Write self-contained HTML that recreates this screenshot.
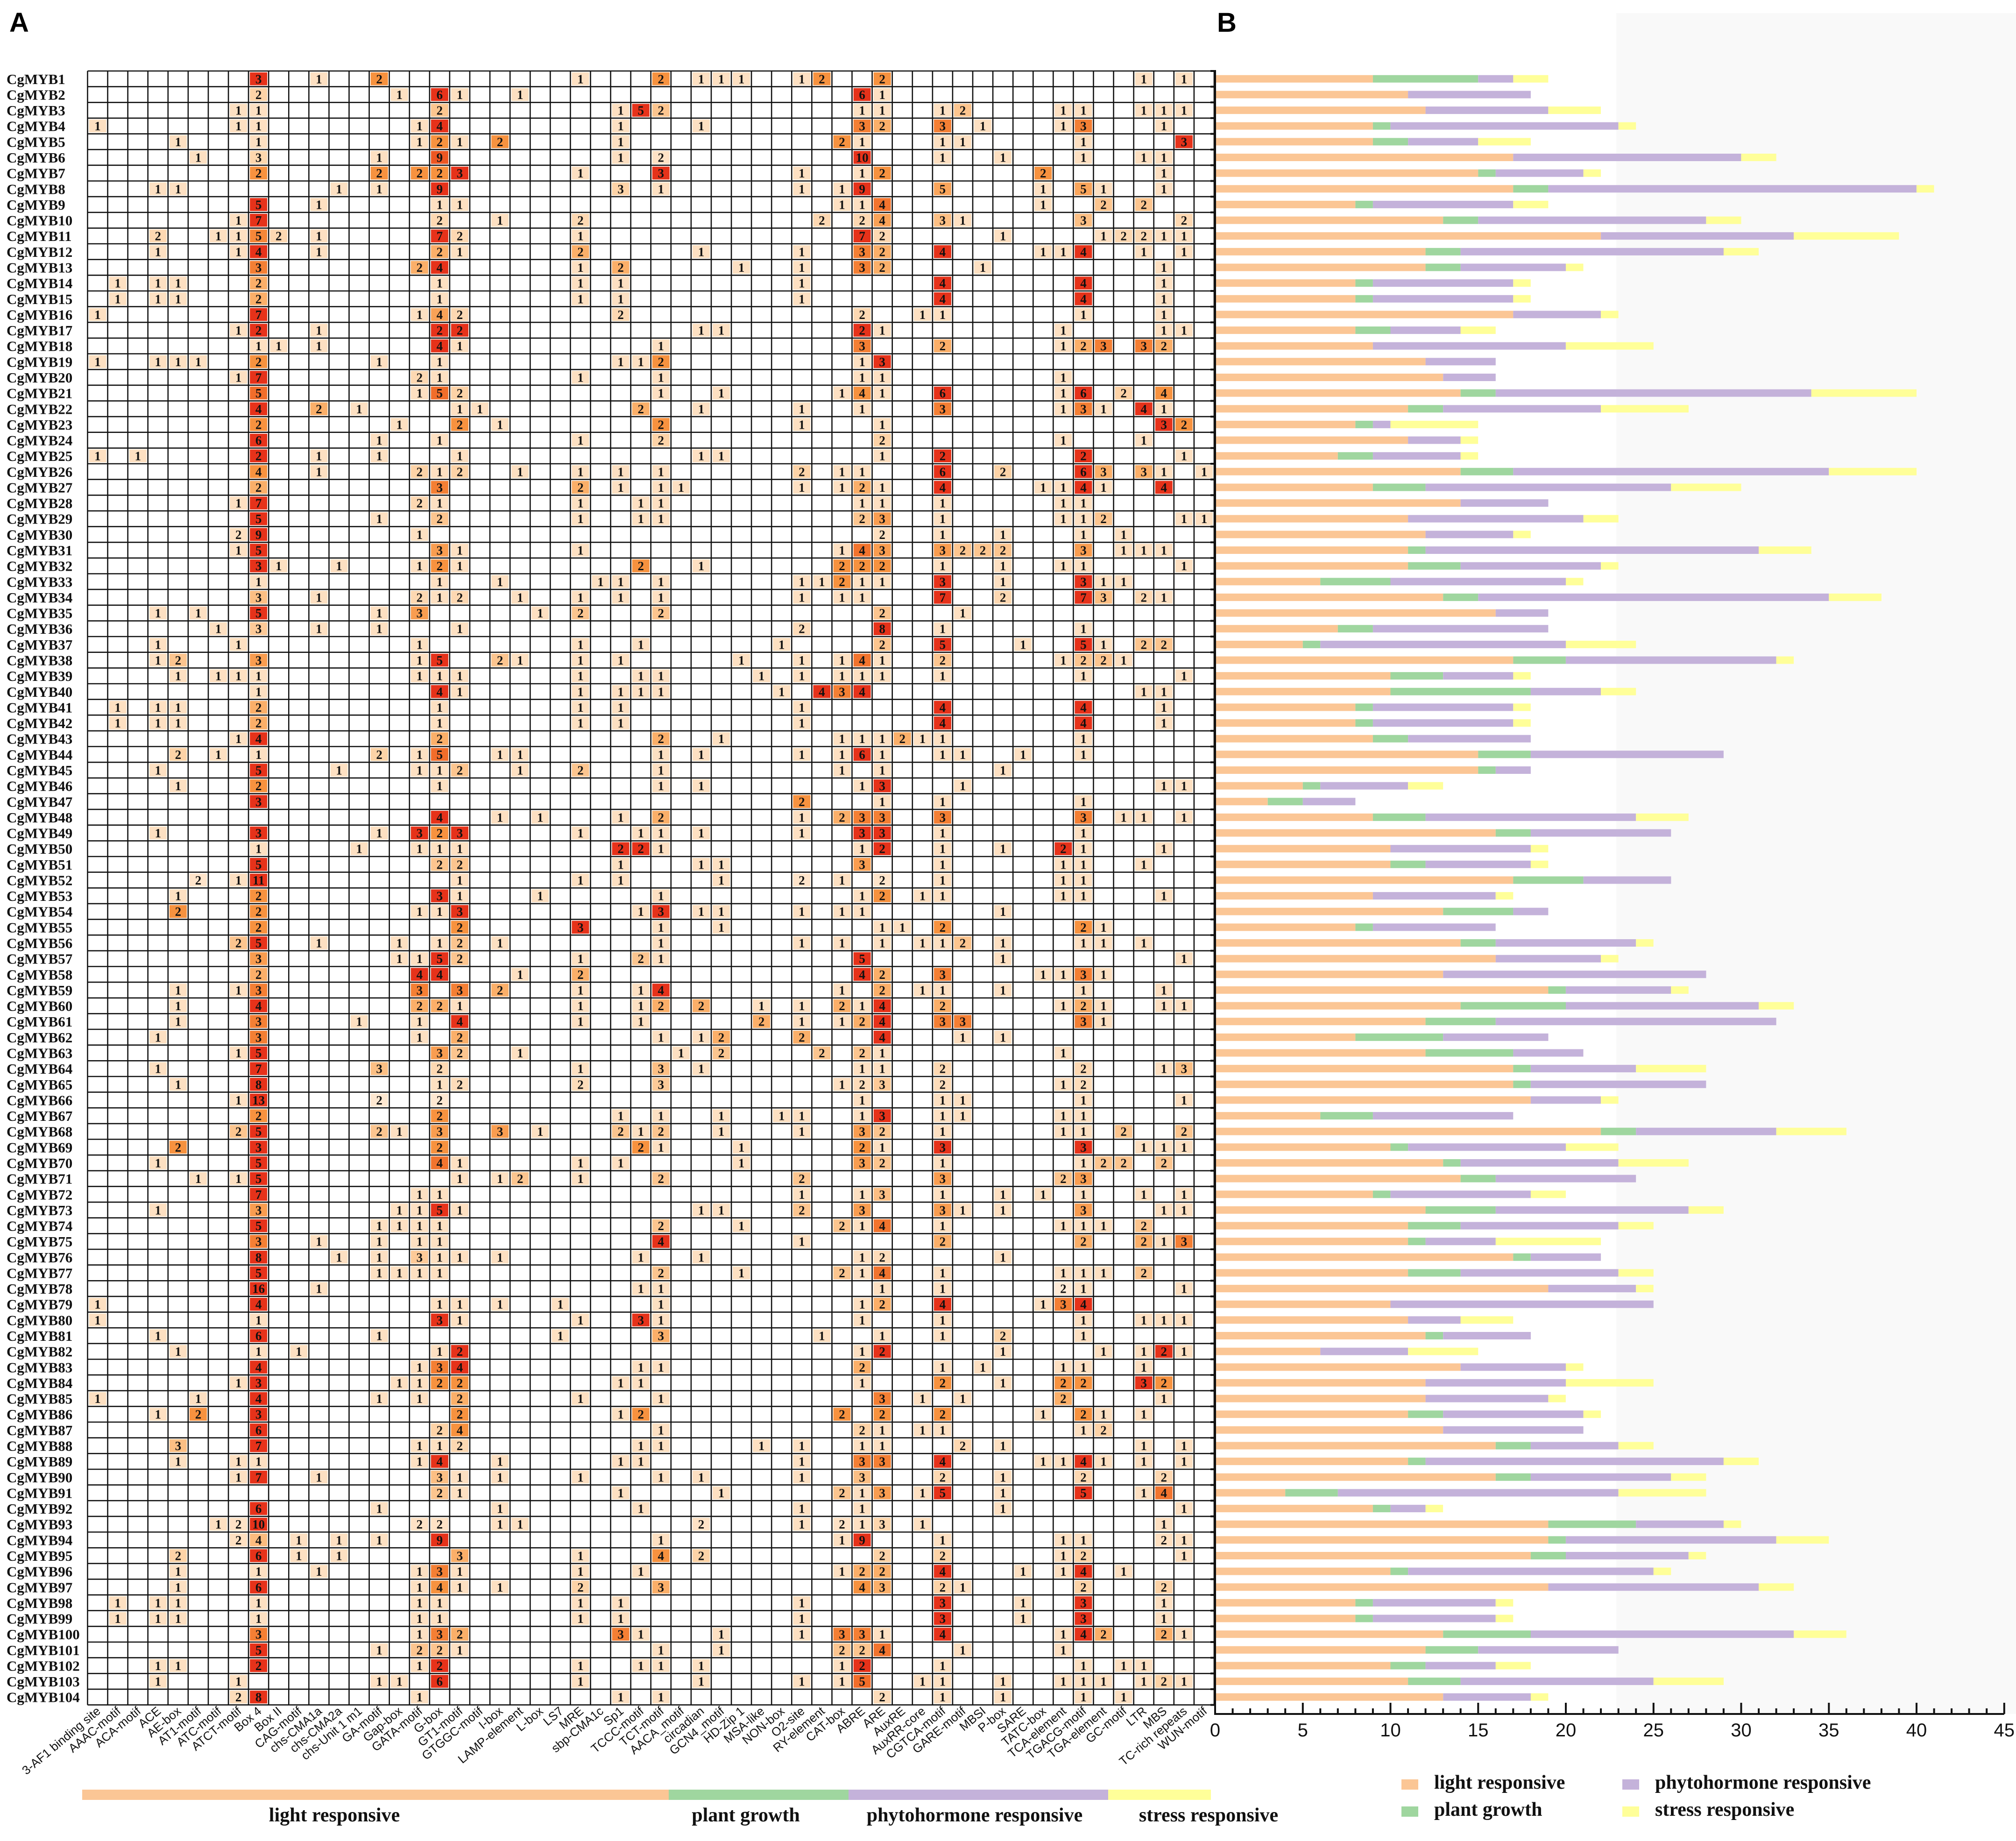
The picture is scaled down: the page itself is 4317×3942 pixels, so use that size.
<!DOCTYPE html>
<html><head><meta charset="utf-8">
<style>
html,body{margin:0;padding:0;background:#fff;}
svg{display:block;}
</style></head>
<body>
<svg id="chart" xmlns="http://www.w3.org/2000/svg" width="4317" height="3942" viewBox="0 0 4317 3942">
<rect x="0" y="0" width="4317" height="3942" fill="#ffffff"/>
<rect x="3461" y="28" width="856" height="3642" fill="#f9f9f9"/>
<text x="20" y="68" font-family="Liberation Sans, sans-serif" font-weight="bold" font-size="58">A</text>
<text x="2606" y="68" font-family="Liberation Sans, sans-serif" font-weight="bold" font-size="58">B</text>
<g id="heat"></g>
<g id="bars"></g>
</svg>
<script>
const genes = [];
for (let i = 1; i <= 104; i++) genes.push('CgMYB' + i);
const elements = ["3-AF1 binding site","AAAC-motif","ACA-motif","ACE","AE-box","AT1-motif","ATC-motif","ATCT-motif","Box 4","Box II","CAG-motif","chs-CMA1a","chs-CMA2a","chs-Unit 1 m1","GA-motif","Gap-box","GATA-motif","G-box","GT1-motif","GTGGC-motif","I-box","LAMP-element","L-box","LS7","MRE","sbp-CMA1c","Sp1","TCCC-motif","TCT-motif","AACA_motif","circadian","GCN4_motif","HD-Zip 1","MSA-like","NON-box","O2-site","RY-element","CAT-box","ABRE","ARE","AuxRE","AuxRR-core","CGTCA-motif","GARE-motif","MBSI","P-box","SARE","TATC-box","TCA-element","TGACG-motif","TGA-element","GC-motif","LTR","MBS","TC-rich repeats","WUN-motif"];
const cellCounts = [
"8:3,11:1,14:2,24:1,28:2,30:1,31:1,32:1,35:1,36:2,39:2,52:1,54:1",
"8:2,15:1,17:6,18:1,21:1,38:6,39:1",
"7:1,8:1,17:2,26:1,27:5,28:2,38:1,39:1,42:1,43:2,48:1,49:1,52:1,53:1,54:1",
"0:1,7:1,8:1,16:1,17:4,26:1,30:1,38:3,39:2,42:3,44:1,48:1,49:3,53:1",
"4:1,8:1,16:1,17:2,18:1,20:2,26:1,37:2,38:1,42:1,43:1,49:1,54:3",
"5:1,8:3,14:1,17:9,26:1,28:2,38:10,42:1,45:1,49:1,52:1,53:1",
"8:2,14:2,16:2,17:2,18:3,24:1,28:3,35:1,38:1,39:2,47:2,53:1",
"3:1,4:1,12:1,14:1,17:9,26:3,28:1,35:1,37:1,38:9,42:5,47:1,49:5,50:1,53:1",
"8:5,11:1,17:1,18:1,37:1,38:1,39:4,47:1,50:2,52:2",
"7:1,8:7,17:2,20:1,24:2,36:2,38:2,39:4,42:3,43:1,49:3,54:2",
"3:2,6:1,7:1,8:5,9:2,11:1,17:7,18:2,24:1,38:7,39:2,45:1,50:1,51:2,52:2,53:1,54:1",
"3:1,7:1,8:4,11:1,17:2,18:1,24:2,30:1,35:1,38:3,39:2,42:4,47:1,48:1,49:4,52:1,54:1",
"8:3,16:2,17:4,24:1,26:2,32:1,35:1,38:3,39:2,44:1,53:1",
"1:1,3:1,4:1,8:2,17:1,24:1,26:1,35:1,42:4,49:4,53:1",
"1:1,3:1,4:1,8:2,17:1,24:1,26:1,35:1,42:4,49:4,53:1",
"0:1,8:7,16:1,17:4,18:2,26:2,38:2,41:1,42:1,49:1,53:1",
"7:1,8:2,11:1,17:2,18:2,30:1,31:1,38:2,39:1,48:1,53:1,54:1",
"8:1,9:1,11:1,17:4,18:1,28:1,38:3,42:2,48:1,49:2,50:3,52:3,53:2",
"0:1,3:1,4:1,5:1,8:2,14:1,17:1,26:1,27:1,28:2,38:1,39:3",
"7:1,8:7,16:2,17:1,24:1,28:1,38:1,39:1,48:1",
"8:5,16:1,17:5,18:2,28:1,31:1,37:1,38:4,39:1,42:6,48:1,49:6,51:2,53:4",
"8:4,11:2,13:1,18:1,19:1,27:2,30:1,35:1,38:1,42:3,48:1,49:3,50:1,52:4,53:1",
"8:2,15:1,18:2,20:1,28:2,35:1,39:1,53:3,54:2",
"8:6,14:1,17:1,24:1,28:2,39:2,48:1,52:1",
"0:1,2:1,8:2,11:1,14:1,18:1,30:1,31:1,39:1,42:2,49:2,54:1",
"8:4,11:1,16:2,17:1,18:2,21:1,24:1,26:1,28:1,35:2,37:1,38:1,42:6,45:2,49:6,50:3,52:3,53:1,55:1",
"8:2,17:3,24:2,26:1,28:1,29:1,35:1,37:1,38:2,39:1,42:4,47:1,48:1,49:4,50:1,53:4",
"7:1,8:7,16:2,17:1,24:1,27:1,28:1,38:1,39:1,42:1,48:1,49:1",
"8:5,14:1,17:2,24:1,27:1,28:1,38:2,39:3,42:1,48:1,49:1,50:2,54:1,55:1",
"7:2,8:9,16:1,39:2,42:1,45:1,49:1,51:1",
"7:1,8:5,17:3,18:1,24:1,37:1,38:4,39:3,42:3,43:2,44:2,45:2,49:3,51:1,52:1,53:1",
"8:3,9:1,12:1,16:1,17:2,18:1,27:2,30:1,37:2,38:2,39:2,42:1,45:1,48:1,49:1,54:1",
"8:1,17:1,20:1,25:1,26:1,28:1,35:1,36:1,37:2,38:1,39:1,42:3,45:1,49:3,50:1,51:1",
"8:3,11:1,16:2,17:1,18:2,21:1,24:1,26:1,28:1,35:1,37:1,38:1,42:7,45:2,49:7,50:3,52:2,53:1",
"3:1,5:1,8:5,14:1,16:3,22:1,24:2,28:2,39:2,43:1",
"6:1,8:3,11:1,14:1,18:1,35:2,39:8,42:1,49:1",
"3:1,7:1,16:1,24:1,27:1,34:1,39:2,42:5,46:1,49:5,50:1,52:2,53:2",
"3:1,4:2,8:3,16:1,17:5,20:2,21:1,24:1,26:1,32:1,35:1,37:1,38:4,39:1,42:2,48:1,49:2,50:2,51:1",
"4:1,6:1,7:1,8:1,16:1,17:1,18:1,24:1,27:1,28:1,33:1,35:1,37:1,38:1,39:1,42:1,49:1,54:1",
"8:1,17:4,18:1,24:1,26:1,27:1,28:1,34:1,36:4,37:3,38:4,52:1,53:1",
"1:1,3:1,4:1,8:2,17:1,24:1,26:1,35:1,42:4,49:4,53:1",
"1:1,3:1,4:1,8:2,17:1,24:1,26:1,35:1,42:4,49:4,53:1",
"7:1,8:4,17:2,28:2,31:1,37:1,38:1,39:1,40:2,41:1,42:1,49:1",
"4:2,6:1,8:1,14:2,16:1,17:5,20:1,21:1,28:1,30:1,35:1,37:1,38:6,39:1,42:1,43:1,46:1,49:1",
"3:1,8:5,12:1,16:1,17:1,18:2,21:1,24:2,28:1,37:1,39:1,45:1",
"4:1,8:2,17:1,28:1,30:1,38:1,39:3,43:1,53:1,54:1",
"8:3,35:2,39:1,42:1,49:1",
"17:4,20:1,22:1,26:1,28:2,35:1,37:2,38:3,39:3,42:3,49:3,51:1,52:1,54:1",
"3:1,8:3,14:1,16:3,17:2,18:3,24:1,27:1,28:1,30:1,35:1,38:3,39:3,42:1,49:1",
"8:1,13:1,16:1,17:1,18:1,26:2,27:2,28:1,38:1,39:2,42:1,45:1,48:2,49:1,53:1",
"8:5,17:2,18:2,26:1,30:1,31:1,38:3,42:1,48:1,49:1,52:1",
"5:2,7:1,8:11,18:1,24:1,26:1,31:1,35:2,37:1,39:2,42:1,48:1,49:1",
"4:1,8:2,17:3,18:1,22:1,28:1,38:1,39:2,41:1,42:1,48:1,49:1,53:1",
"4:2,8:2,16:1,17:1,18:3,27:1,28:3,30:1,31:1,35:1,37:1,38:1,45:1",
"8:2,18:2,24:3,28:1,31:1,39:1,40:1,42:2,49:2,50:1",
"7:2,8:5,11:1,15:1,17:1,18:2,20:1,28:1,35:1,37:1,39:1,41:1,42:1,43:2,45:1,49:1,50:1,52:1",
"8:3,15:1,16:1,17:5,18:2,24:1,27:2,28:1,38:5,45:1,54:1",
"8:2,16:4,17:4,21:1,24:2,38:4,39:2,42:3,47:1,48:1,49:3,50:1",
"4:1,7:1,8:3,16:3,18:3,20:2,24:1,27:1,28:4,37:1,39:2,41:1,42:1,45:1,49:1,53:1",
"4:1,8:4,16:2,17:2,18:1,24:1,27:1,28:2,30:2,33:1,35:1,37:2,38:1,39:4,42:2,48:1,49:2,50:1,53:1,54:1",
"4:1,8:3,13:1,16:1,18:4,24:1,27:1,33:2,35:1,37:1,38:2,39:4,42:3,43:3,49:3,50:1",
"3:1,8:3,16:1,18:2,28:1,30:1,31:2,35:2,39:4,43:1,45:1",
"7:1,8:5,17:3,18:2,21:1,29:1,31:2,36:2,38:2,39:1,48:1",
"3:1,8:7,14:3,17:2,24:1,28:3,30:1,38:1,39:1,42:2,49:2,53:1,54:3",
"4:1,8:8,17:1,18:2,24:2,28:3,37:1,38:2,39:3,42:2,48:1,49:2",
"7:1,8:13,14:2,17:2,38:1,42:1,43:1,49:1,54:1",
"8:2,17:2,26:1,28:1,31:1,34:1,35:1,38:1,39:3,42:1,43:1,48:1,49:1",
"7:2,8:5,14:2,15:1,17:3,20:3,22:1,26:2,27:1,28:2,31:1,35:1,38:3,39:2,42:1,48:1,49:1,51:2,54:2",
"4:2,8:3,17:2,27:2,28:1,32:1,38:2,39:1,42:3,49:3,52:1,53:1,54:1",
"3:1,8:5,17:4,18:1,24:1,26:1,32:1,38:3,39:2,42:1,49:1,50:2,51:2,53:2",
"5:1,7:1,8:5,18:1,20:1,21:2,24:1,28:2,35:2,42:3,48:2,49:3",
"8:7,16:1,17:1,35:1,38:1,39:3,42:1,45:1,47:1,49:1,52:1,54:1",
"3:1,8:3,15:1,16:1,17:5,18:1,30:1,31:1,35:2,38:3,42:3,43:1,45:1,49:3,53:1,54:1",
"8:5,14:1,15:1,16:1,17:1,28:2,32:1,37:2,38:1,39:4,42:1,48:1,49:1,50:1,52:2",
"8:3,11:1,14:1,16:1,17:1,28:4,35:1,42:2,49:2,52:2,53:1,54:3",
"8:8,12:1,14:1,16:3,17:1,18:1,20:1,27:1,30:1,38:1,39:2,45:1",
"8:5,14:1,15:1,16:1,17:1,28:2,32:1,37:2,38:1,39:4,42:1,48:1,49:1,50:1,52:2",
"8:16,11:1,27:1,28:1,39:1,42:1,48:2,49:1,54:1",
"0:1,8:4,17:1,18:1,20:1,23:1,28:1,38:1,39:2,42:4,47:1,48:3,49:4",
"0:1,8:1,17:3,18:1,24:1,27:3,28:1,38:1,42:1,49:1,52:1,53:1,54:1",
"3:1,8:6,14:1,23:1,28:3,36:1,39:1,42:1,45:2,49:1",
"4:1,8:1,10:1,17:1,18:2,38:1,39:2,45:1,50:1,52:1,53:2,54:1",
"8:4,16:1,17:3,18:4,27:1,28:1,38:2,42:1,44:1,48:1,49:1,52:1",
"7:1,8:3,15:1,16:1,17:2,18:2,26:1,27:1,38:1,42:2,45:1,48:2,49:2,52:3,53:2",
"0:1,5:1,8:4,14:1,16:1,18:2,24:1,28:1,39:3,41:1,43:1,48:2,53:1",
"3:1,5:2,8:3,18:2,26:1,27:2,37:2,39:2,42:2,47:1,49:2,50:1,52:1",
"8:6,17:2,18:4,28:1,38:2,39:1,41:1,42:1,49:1,50:2",
"4:3,8:7,16:1,17:1,18:2,27:1,28:1,33:1,35:1,38:1,39:1,43:2,45:1,52:1,54:1",
"4:1,7:1,8:1,16:1,17:4,20:1,26:1,27:1,35:1,38:3,39:3,42:4,47:1,48:1,49:4,50:1,52:1,54:1",
"7:1,8:7,11:1,17:3,18:1,20:1,24:1,28:1,30:1,35:1,38:3,42:2,45:1,49:2,53:2",
"17:2,18:1,26:1,31:1,37:2,38:1,39:3,41:1,42:5,45:1,49:5,52:1,53:4",
"8:6,14:1,20:1,27:1,35:1,38:1,45:1,54:1",
"6:1,7:2,8:10,16:2,17:2,20:1,21:1,30:2,35:1,37:2,38:1,39:3,41:1,53:1",
"7:2,8:4,10:1,12:1,14:1,17:9,28:1,37:1,38:9,42:1,48:1,49:1,53:2,54:1",
"4:2,8:6,10:1,12:1,18:3,24:1,28:4,30:2,39:2,42:2,48:1,49:2,54:1",
"4:1,8:1,11:1,16:1,17:3,18:1,24:1,27:1,37:1,38:2,39:2,42:4,46:1,48:1,49:4,51:1",
"4:1,8:6,16:1,17:4,18:1,20:1,24:2,28:3,38:4,39:3,42:2,43:1,49:2,53:2",
"1:1,3:1,4:1,8:1,16:1,17:1,24:1,26:1,35:1,42:3,46:1,49:3,53:1",
"1:1,3:1,4:1,8:1,16:1,17:1,24:1,26:1,35:1,42:3,46:1,49:3,53:1",
"8:3,16:1,17:3,18:2,26:3,27:1,31:1,35:1,37:3,38:3,39:1,42:4,48:1,49:4,50:2,53:2,54:1",
"8:5,14:1,16:2,17:2,18:1,28:1,31:1,37:2,38:2,39:4,43:1,48:1",
"3:1,4:1,8:2,16:1,17:2,24:1,27:1,28:1,30:1,37:1,38:2,42:1,49:1,51:1,52:1",
"3:1,7:1,14:1,15:1,17:6,24:1,30:1,35:1,37:1,38:5,41:1,42:1,45:1,48:1,49:1,50:1,52:1,53:2,54:1",
"7:2,8:8,16:1,26:1,28:1,39:2,42:1,45:1,49:1,51:1"
];
const lightVals = [9,11,12,9,9,17,15,17,8,13,22,12,12,8,8,17,8,9,12,13,14,11,8,11,7,14,9,14,11,12,11,11,6,13,16,7,5,17,10,10,8,8,9,15,15,5,3,9,16,10,10,17,9,13,8,14,16,13,19,14,12,8,12,17,17,18,6,22,10,13,14,9,12,11,11,17,11,19,10,11,12,6,14,12,12,11,13,16,11,16,4,9,19,19,18,10,19,8,8,13,12,10,11,13];
const growthVals = [6,0,0,1,2,0,1,2,1,2,0,2,2,1,1,0,2,0,0,0,2,2,1,0,2,3,3,0,0,0,1,3,4,2,0,2,1,3,3,8,1,1,2,3,1,1,2,3,2,0,2,4,0,4,1,2,0,0,1,6,4,5,5,1,1,0,3,2,1,1,2,1,4,3,1,1,3,0,0,0,1,0,0,0,0,2,0,2,1,2,3,1,5,1,2,1,0,1,1,5,3,2,3,0];
const phytoVals = [2,7,7,13,4,13,5,21,8,13,11,15,6,8,8,5,4,11,4,3,18,9,1,3,5,18,14,5,10,5,19,8,10,20,3,10,14,12,4,4,8,8,7,11,2,5,3,12,8,8,6,5,7,2,7,8,6,15,6,11,16,6,4,6,10,4,8,8,9,9,8,8,11,9,4,4,9,5,15,3,5,5,6,8,7,8,8,5,17,8,16,2,5,12,7,14,12,7,7,15,8,4,11,5];
const stressVals = [2,0,3,1,3,2,1,1,2,2,6,2,1,1,1,1,2,5,0,0,6,5,5,1,1,5,4,0,2,1,3,1,1,3,0,0,4,1,1,2,1,1,0,0,0,2,0,3,0,1,1,0,1,0,0,1,1,0,1,2,0,0,0,4,0,1,0,4,3,4,0,2,2,2,6,0,2,1,0,3,0,4,1,5,1,1,0,2,2,2,5,1,1,3,1,1,2,1,1,3,0,2,4,1];
const xTicks = [0,5,10,15,20,25,30,35,40,45];
const groupNames = ["light responsive","plant growth","phytohormone responsive","stress responsive"];
const groupColors = ["#fbc695","#9fd69f","#c4b2da","#ffff99"];

const NS = "http://www.w3.org/2000/svg";
function mk(tag, attrs, parent) {
  const e = document.createElementNS(NS, tag);
  for (const k in attrs) e.setAttribute(k, attrs[k]);
  parent.appendChild(e);
  return e;
}
const GX0 = 187.5, GY0 = 152, CW = 43.08, RH = 33.64;
const NC = elements.length, NR = genes.length;
const colX = c => GX0 + c * CW;
const rowY = r => GY0 + r * RH;
const stops = [[0,[255,245,235]],[0.15,[254,232,210]],[0.34,[253,210,165]],[0.5,[251,175,105]],[0.67,[247,145,62]],[0.85,[240,105,40]],[1,[230,50,26]]];
function colorFor(v, mx) {
  if (v <= 1) return 'rgb(253,224,194)';
  const r = v / mx;
  for (let i = 1; i < stops.length; i++) {
    if (r <= stops[i][0]) {
      const a = stops[i-1], b = stops[i];
      const t = (r - a[0]) / (b[0] - a[0]);
      const c = a[1].map((q, j) => Math.round(q + (b[1][j] - q) * t));
      return 'rgb(' + c.join(',') + ')';
    }
  }
  return 'rgb(230,50,26)';
}
const heat = document.getElementById('heat');
const cellG = mk('g', {}, heat);


cellCounts.forEach((row, r) => {
  const items = row.split(',').map(s => s.split(':').map(Number));
  const mx = Math.max.apply(null, items.map(it => it[1]));
  items.forEach(([c, v]) => {
    const rect = mk('rect', {x: colX(c) + 3, y: rowY(r) + 3, width: CW - 6, height: RH - 6, fill: colorFor(v, mx)}, cellG);
    
    
    const t = mk('text', {x: colX(c) + CW / 2, y: rowY(r) + RH / 2 + 9.5, 'text-anchor': 'middle', 'font-family': 'Liberation Serif, serif', 'font-weight': 'bold', 'font-size': 27, fill: '#111'}, cellG);
    t.textContent = v;
    
    
  });
});
let d = '';
for (let r = 0; r <= NR; r++) d += 'M' + GX0 + ' ' + rowY(r).toFixed(1) + 'H' + colX(NC).toFixed(1);
for (let c = 0; c <= NC; c++) d += 'M' + colX(c).toFixed(1) + ' ' + GY0 + 'V' + rowY(NR).toFixed(1);
const grid = mk('path', {d: d, stroke: '#111', 'stroke-width': 2.6, fill: 'none'}, heat);


genes.forEach((g, r) => {
  const t = mk('text', {x: 14, y: rowY(r) + RH / 2 + 11, 'font-family': 'Liberation Serif, serif', 'font-weight': 'bold', 'font-size': 31, fill: '#111'}, heat);
  t.textContent = g;
  
  
});
elements.forEach((e, c) => {
  const cx = colX(c) + CW / 2 + 8, cy = rowY(NR) + 16;
  const t = mk('text', {transform: 'translate(' + cx.toFixed(1) + ',' + cy.toFixed(1) + ') rotate(-40)', 'text-anchor': 'end', 'font-family': 'Liberation Sans, sans-serif', 'font-size': 26, fill: '#111'}, heat);
  t.textContent = e;
  
  
});
const groupSpans = [[176,1432],[1432,1817],[1817,2373],[2373,2593]];
const groupLabelX = [716,1597,2087,2588];
groupNames.forEach((n, i) => {
  const b = mk('rect', {x: groupSpans[i][0], y: 3832, width: groupSpans[i][1] - groupSpans[i][0], height: 22, fill: groupColors[i]}, heat);
  
  
  const t = mk('text', {x: groupLabelX[i], y: 3900, 'text-anchor': 'middle', 'font-family': 'Liberation Serif, serif', 'font-weight': 'bold', 'font-size': 42, fill: '#111'}, heat);
  t.textContent = n;
  
  
});
const bars = document.getElementById('bars');
const BX0 = 2602, UNIT = 37.55, AXY = 3670;
const xScale = v => BX0 + v * UNIT;
const series = [lightVals, growthVals, phytoVals, stressVals];
genes.forEach((g, r) => {
  let acc = 0;
  const cy = rowY(r) + RH / 2;
  series.forEach((arr, si) => {
    const v = arr[r];
    if (v > 0) {
      const rect = mk('rect', {x: xScale(acc).toFixed(1), y: (cy - 8).toFixed(1), width: (v * UNIT).toFixed(1), height: 16, fill: groupColors[si]}, bars);
      
      
    }
    acc += v;
  });
});
let yd = 'M' + BX0 + ' ' + (GY0 - 2) + 'V' + AXY;
for (let r = 0; r <= NR; r++) yd += 'M' + (BX0 - 10) + ' ' + rowY(r).toFixed(1) + 'H' + BX0;
const yAxis = mk('path', {d: yd, stroke: '#111', 'stroke-width': 4, fill: 'none'}, bars);


let xd = 'M' + (BX0 - 2) + ' ' + AXY + 'H' + xScale(45).toFixed(1);
for (let v = 0; v <= 45; v++) {
  const len = v % 5 === 0 ? 24 : 12;
  xd += 'M' + xScale(v).toFixed(1) + ' ' + AXY + 'V' + (AXY - len);
}
const xAxis = mk('path', {d: xd, stroke: '#111', 'stroke-width': 4, fill: 'none'}, bars);


xTicks.forEach(v => {
  const t = mk('text', {x: xScale(v).toFixed(1), y: AXY + 48, 'text-anchor': 'middle', 'font-family': 'Liberation Sans, sans-serif', 'font-size': 40, fill: '#111'}, bars);
  t.textContent = v;
  
  
});
const legPos = [[3001,3814],[3001,3872],[3474,3814],[3474,3872]];
const legOrder = [0,1,2,3];
legOrder.forEach((si, i) => {
  const [lx, ly] = legPos[i];
  const sq = mk('rect', {x: lx, y: ly - 4, width: 36, height: 22, fill: groupColors[si]}, bars);
  
  
  const t = mk('text', {x: lx + 70, y: ly + 16, 'font-family': 'Liberation Serif, serif', 'font-weight': 'bold', 'font-size': 42, fill: '#111'}, bars);
  t.textContent = groupNames[si];
  
  
});
</script>
</body></html>
